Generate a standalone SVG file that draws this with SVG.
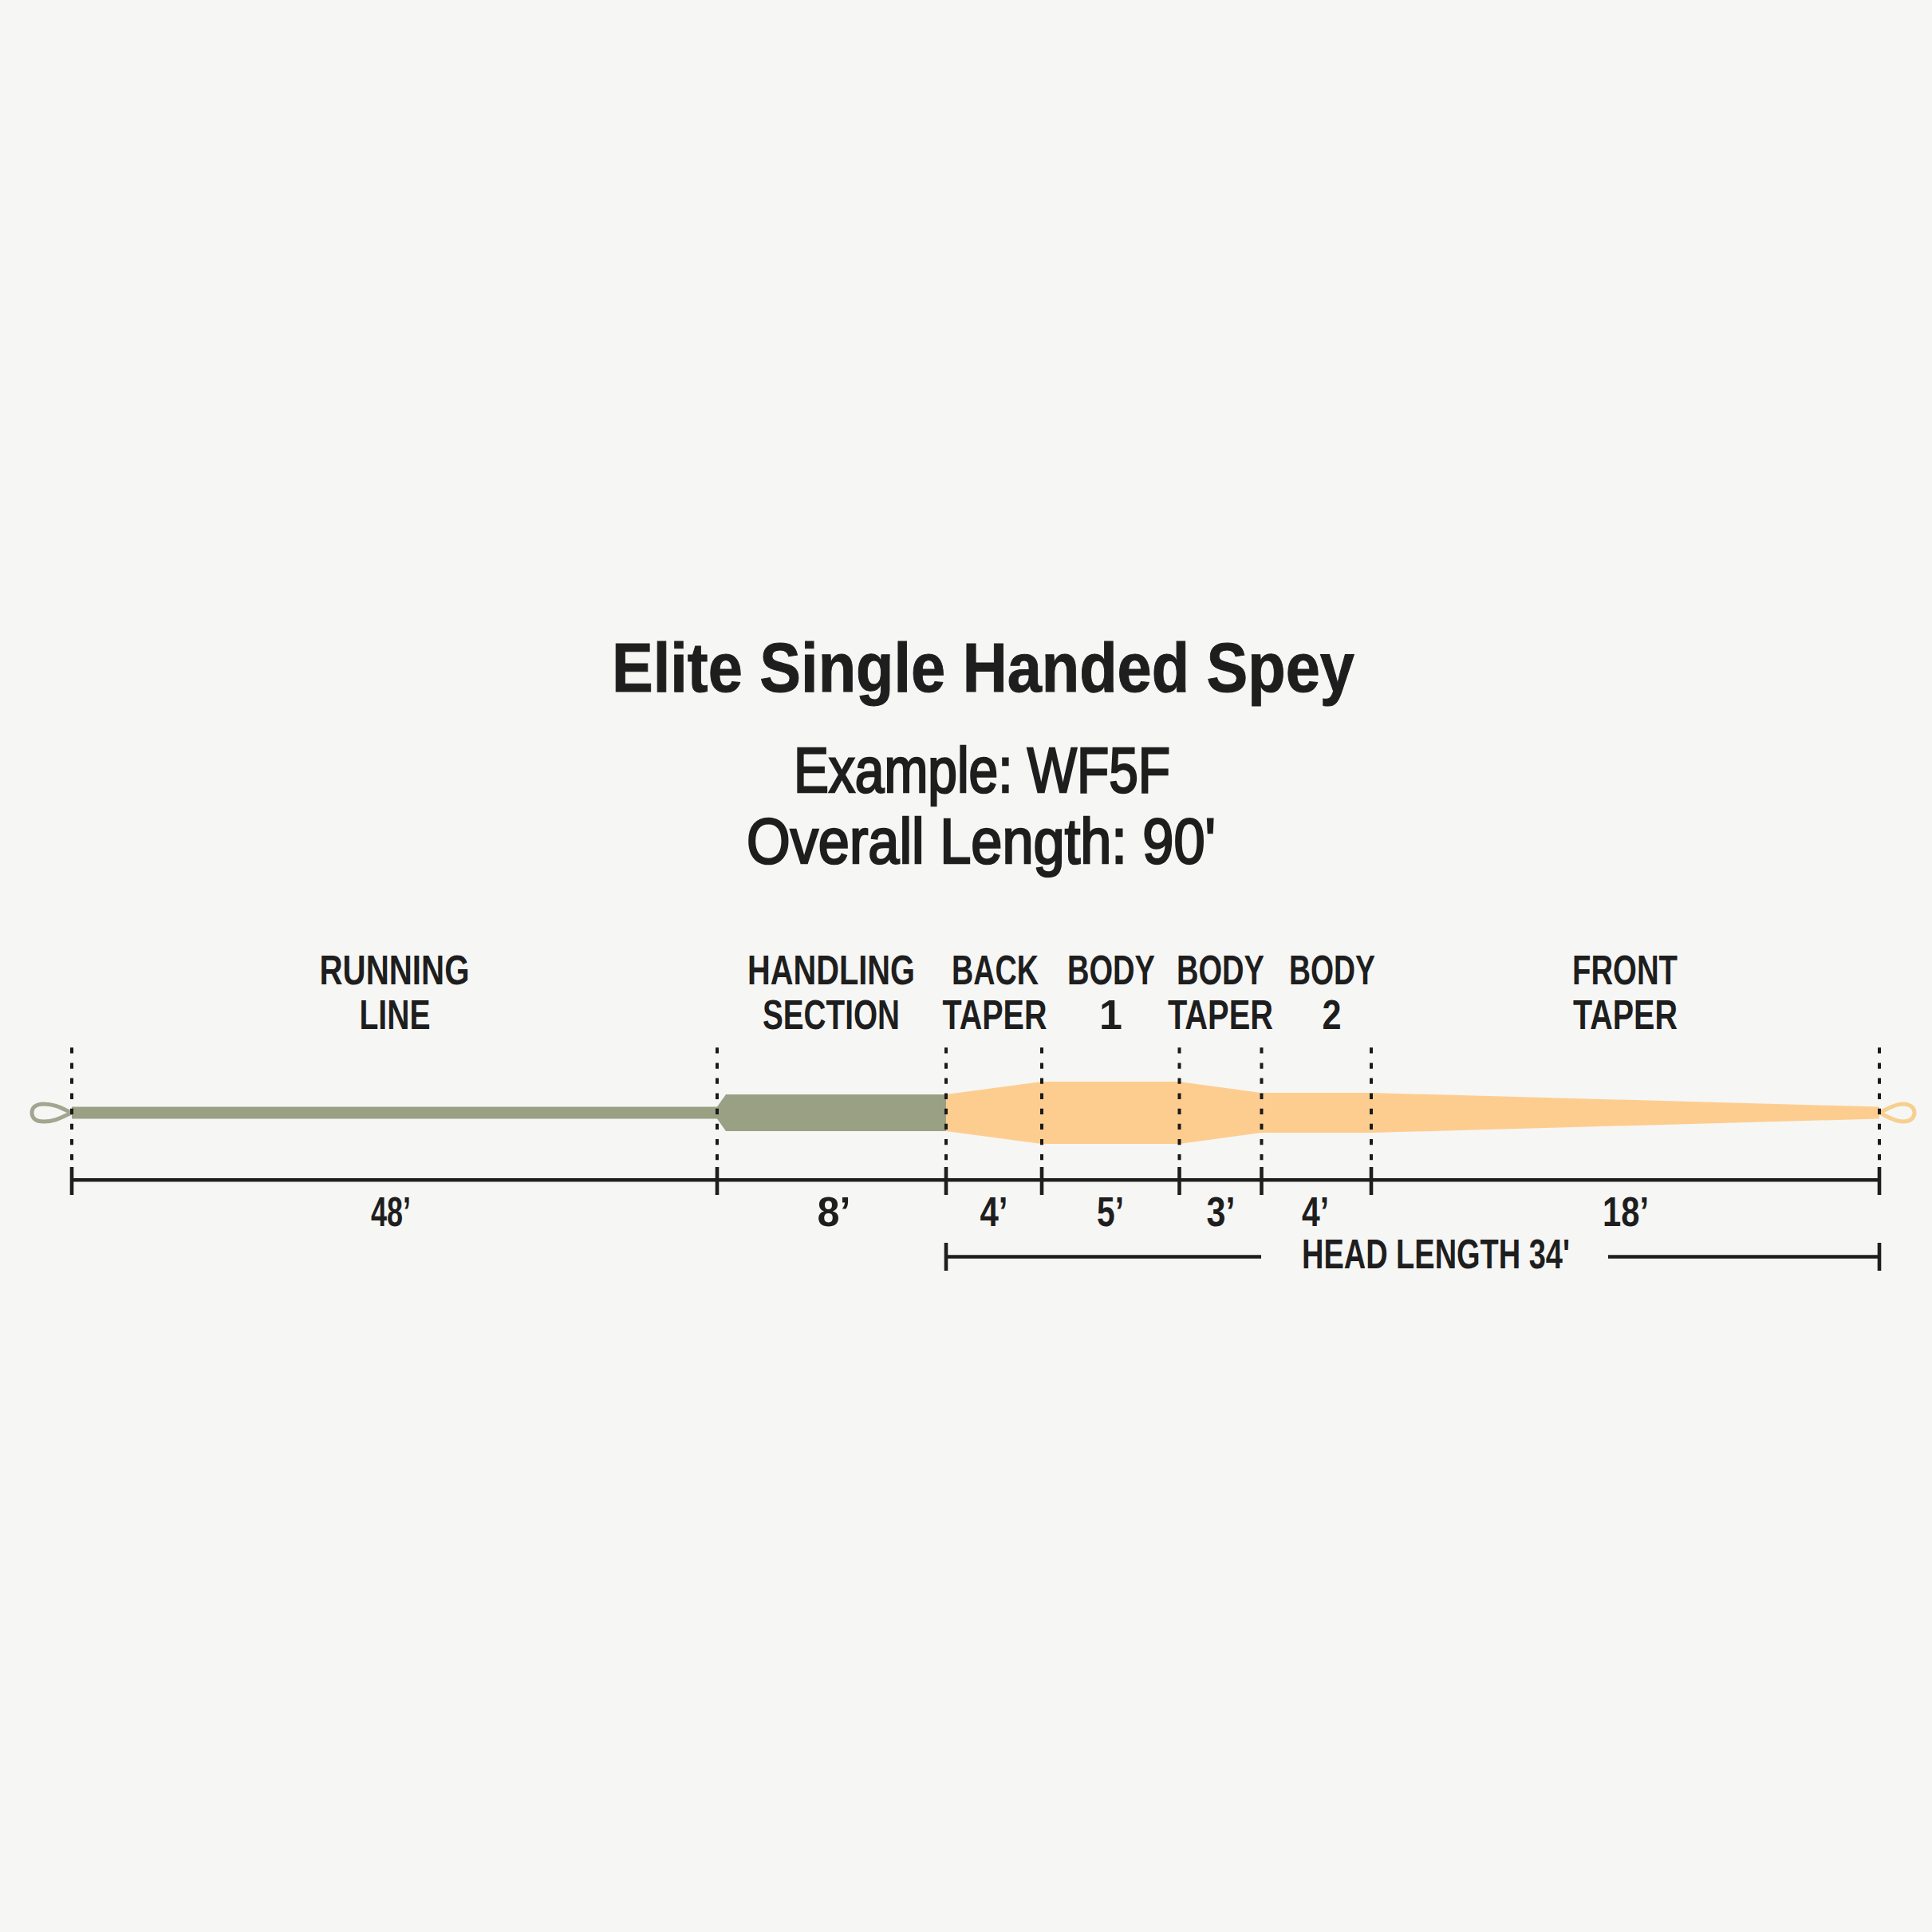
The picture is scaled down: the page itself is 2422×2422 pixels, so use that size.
<svg xmlns="http://www.w3.org/2000/svg" width="2422" height="2422" viewBox="0 0 2422 2422">
  <style>
    .lbl { font-family: "Liberation Sans Narrow", "Liberation Sans", Arial, sans-serif; font-weight: bold; font-size: 52px; fill: #1e1e1e; text-anchor: middle; }
    .title { font-family: "Liberation Sans Narrow", "Liberation Sans", Arial, sans-serif; font-weight: bold; font-size: 87px; fill: #1e1e1e; text-anchor: middle; stroke: #1e1e1e; stroke-width: 1; }
    .sub { font-family: "Liberation Sans Narrow", "Liberation Sans", Arial, sans-serif; font-weight: normal; font-size: 80px; fill: #1e1e1e; text-anchor: middle; stroke: #1e1e1e; stroke-width: 2.6; }
    .dash { stroke: #1a1a1a; stroke-width: 4; stroke-dasharray: 7.3 11.8; fill: none; }
    .dim { stroke: #1e1e1e; stroke-width: 4.6; fill: none; }
    .green { fill: #99a083; }
    .orange { fill: #fdcd90; }
  </style>
  <rect x="0" y="0" width="2422" height="2422" fill="#f6f6f4"/>

  <g id="title">
    <text class="title" x="1232.5" y="867" textLength="931" lengthAdjust="spacingAndGlyphs">Elite Single Handed Spey</text>
    <text class="sub" x="1231" y="992.5" textLength="472" lengthAdjust="spacingAndGlyphs">Example: WF5F</text>
    <text class="sub" x="1230" y="1081.5" textLength="588" lengthAdjust="spacingAndGlyphs">Overall Length: 90'</text>
  </g>

  <g id="running-line">
    <path d="M90,1395 C80,1391 70,1384 55,1384 C44,1384 40,1389 40,1395 C40,1401 44,1406 55,1406 C70,1406 80,1399 90,1395 Z" fill="none" stroke="#a2a58f" stroke-width="5"/>
    <rect class="green" x="90" y="1387.5" width="810" height="15"/>
    <text class="lbl" x="494.5" y="1234" textLength="188" lengthAdjust="spacingAndGlyphs">RUNNING</text>
    <text class="lbl" x="495" y="1290" textLength="89" lengthAdjust="spacingAndGlyphs">LINE</text>
    <text class="lbl" x="490" y="1537" textLength="50" lengthAdjust="spacingAndGlyphs">48’</text>
  </g>

  <g id="handling-section">
    <polygon class="green" points="899,1387.5 910,1372 1187,1372 1187,1418 910,1418 899,1402.5"/>
    <text class="lbl" x="1042" y="1234" textLength="210" lengthAdjust="spacingAndGlyphs">HANDLING</text>
    <text class="lbl" x="1042" y="1290" textLength="172" lengthAdjust="spacingAndGlyphs">SECTION</text>
    <text class="lbl" x="1045.5" y="1537" textLength="42" lengthAdjust="spacingAndGlyphs">8’</text>
  </g>

  <g id="head">
    <polygon class="orange" points="1186,1372 1306,1356 1478,1356 1581,1370 1719,1370 2356,1387.5 2356,1402.5 1719,1420 1581,1420 1478,1434 1306,1434 1186,1418"/>
    <path d="M2356,1395 C2365,1391 2374,1384 2386,1384 C2395,1384 2400,1389 2400,1395 C2400,1401 2395,1406 2386,1406 C2374,1406 2365,1399 2356,1395 Z" fill="none" stroke="#f7cf8f" stroke-width="5"/>
  </g>

  <g id="back-taper">
    <text class="lbl" x="1247.5" y="1234" textLength="109" lengthAdjust="spacingAndGlyphs">BACK</text>
    <text class="lbl" x="1247" y="1290" textLength="131" lengthAdjust="spacingAndGlyphs">TAPER</text>
    <text class="lbl" x="1246" y="1537" textLength="35" lengthAdjust="spacingAndGlyphs">4’</text>
  </g>
  <g id="body-1">
    <text class="lbl" x="1393" y="1234" textLength="110" lengthAdjust="spacingAndGlyphs">BODY</text>
    <text class="lbl" x="1392.5" y="1290">1</text>
    <text class="lbl" x="1392" y="1537" textLength="34" lengthAdjust="spacingAndGlyphs">5’</text>
  </g>
  <g id="body-taper">
    <text class="lbl" x="1530" y="1234" textLength="110" lengthAdjust="spacingAndGlyphs">BODY</text>
    <text class="lbl" x="1530" y="1290" textLength="132" lengthAdjust="spacingAndGlyphs">TAPER</text>
    <text class="lbl" x="1530.5" y="1537" textLength="36" lengthAdjust="spacingAndGlyphs">3’</text>
  </g>
  <g id="body-2">
    <text class="lbl" x="1670" y="1234" textLength="108" lengthAdjust="spacingAndGlyphs">BODY</text>
    <text class="lbl" x="1669.5" y="1290" textLength="24" lengthAdjust="spacingAndGlyphs">2</text>
    <text class="lbl" x="1649" y="1537" textLength="34" lengthAdjust="spacingAndGlyphs">4’</text>
  </g>
  <g id="front-taper">
    <text class="lbl" x="2037" y="1234" textLength="132" lengthAdjust="spacingAndGlyphs">FRONT</text>
    <text class="lbl" x="2037.5" y="1290" textLength="131" lengthAdjust="spacingAndGlyphs">TAPER</text>
    <text class="lbl" x="2038" y="1537" textLength="58" lengthAdjust="spacingAndGlyphs">18’</text>
  </g>

  <g id="head-length">
    <text class="lbl" x="1800" y="1590" textLength="336" lengthAdjust="spacingAndGlyphs">HEAD LENGTH 34'</text>
  </g>

  <g id="connectors">
    <line class="dash" x1="90" y1="1313.3" x2="90" y2="1455"/>
    <line class="dash" x1="899" y1="1313.3" x2="899" y2="1455"/>
    <line class="dash" x1="1186" y1="1313.3" x2="1186" y2="1455"/>
    <line class="dash" x1="1306" y1="1313.3" x2="1306" y2="1455"/>
    <line class="dash" x1="1478.5" y1="1313.3" x2="1478.5" y2="1455"/>
    <line class="dash" x1="1581.5" y1="1313.3" x2="1581.5" y2="1455"/>
    <line class="dash" x1="1719" y1="1313.3" x2="1719" y2="1455"/>
    <line class="dash" x1="2356" y1="1313.3" x2="2356" y2="1455"/>

    <line class="dim" x1="90" y1="1479.3" x2="2356" y2="1479.3"/>
    <line class="dim" x1="90" y1="1463" x2="90" y2="1498"/>
    <line class="dim" x1="899" y1="1463" x2="899" y2="1498"/>
    <line class="dim" x1="1186" y1="1463" x2="1186" y2="1498"/>
    <line class="dim" x1="1306" y1="1463" x2="1306" y2="1498"/>
    <line class="dim" x1="1478.5" y1="1463" x2="1478.5" y2="1498"/>
    <line class="dim" x1="1581.5" y1="1463" x2="1581.5" y2="1498"/>
    <line class="dim" x1="1719" y1="1463" x2="1719" y2="1498"/>
    <line class="dim" x1="2356" y1="1463" x2="2356" y2="1498"/>

    <line class="dim" x1="1186" y1="1575.5" x2="1581" y2="1575.5"/>
    <line class="dim" x1="1186" y1="1558" x2="1186" y2="1593"/>
    <line class="dim" x1="2016" y1="1575.5" x2="2356" y2="1575.5"/>
    <line class="dim" x1="2356" y1="1558" x2="2356" y2="1593"/>
  </g>
</svg>
